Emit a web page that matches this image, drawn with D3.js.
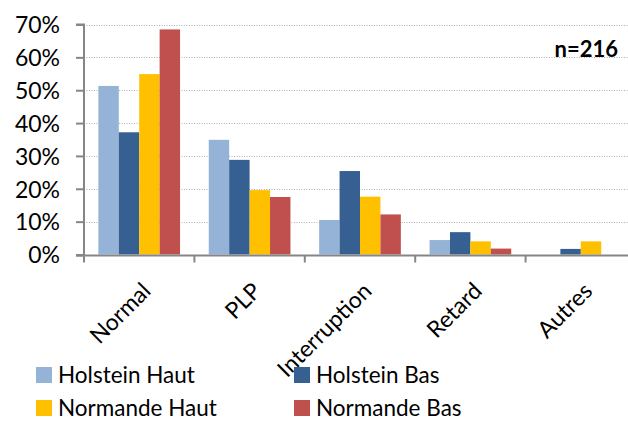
<!DOCTYPE html>
<html><head><meta charset="utf-8">
<script src="https://cdn.jsdelivr.net/npm/d3@7/dist/d3.min.js"></script>
<style>
html,body{margin:0;padding:0;background:#fff;}
svg{display:block;font-family:Lato, "Open Sans", sans-serif;}
</style></head>
<body><svg id="c" width="628" height="421"></svg>
<script>
const categories = ["Normal", "PLP", "Interruption", "Retard", "Autres"];
const seriesNames = ["Holstein Haut", "Holstein Bas", "Normande Haut", "Normande Bas"];
const holsteinHaut = [0.513, 0.349, 0.105, 0.044, 0.0];
const holsteinBas = [0.372, 0.288, 0.254, 0.068, 0.017];
const normandeHaut = [0.549, 0.196, 0.176, 0.040, 0.040];
const normandeBas = [0.685, 0.175, 0.122, 0.018, 0.0];
const colors = ["#95B3D7", "#366092", "#FFC000", "#C0504D"];
const yTicks = [0, 0.1, 0.2, 0.3, 0.4, 0.5, 0.6, 0.7];
const annotation = "n=216";

(function () {
const values = [holsteinHaut, holsteinBas, normandeHaut, normandeBas];
const svg = d3.select("#c");
const pLeft = 84, pRight = 636, pTop = 24.5, pBottom = 254.5;

const x0 = d3.scaleBand().domain(categories).range([pLeft, pRight]).padding(0);
const x1 = d3.scaleBand().domain(seriesNames)
  .range([x0.bandwidth() * 0.13, x0.bandwidth() * 0.87]).padding(0);
const y = d3.scaleLinear().domain([0, 0.7]).range([pBottom, pTop]);

// gridlines
svg.append("g").selectAll("line").data(yTicks.slice(1)).join("line")
  .attr("x1", pLeft).attr("x2", 628)
  .attr("y1", d => Math.round(y(d)) + 0.5).attr("y2", d => Math.round(y(d)) + 0.5)
  .attr("stroke", "#b0b0b0").attr("stroke-width", 1).attr("stroke-dasharray", "1,1.5");

// bars
const rows = [];
categories.forEach((c, i) => seriesNames.forEach((s, j) => rows.push({c, s, v: values[j][i], col: colors[j]})));
svg.append("g").selectAll("rect").data(rows.filter(d => d.v > 0)).join("rect")
  .attr("x", d => x0(d.c) + x1(d.s))
  .attr("width", x1.bandwidth())
  .attr("y", d => y(d.v))
  .attr("height", d => y(0) - y(d.v))
  .attr("fill", d => d.col);

// y axis
const yAxis = d3.axisLeft(y).tickValues(yTicks).tickFormat(d3.format(".0%")).tickSize(8).tickPadding(16);
const gy = svg.append("g").attr("transform", `translate(${pLeft},0)`).call(yAxis);
gy.select(".domain").attr("stroke", "#868686").attr("stroke-width", 2).attr("d", `M-8,${pTop}H0V${pBottom+1}H-8`);
gy.selectAll(".tick line").attr("stroke", "#868686").attr("stroke-width", 2);
gy.selectAll(".tick text").attr("font-size", 23).attr("fill", "#000").attr("font-family", "Lato").attr("dy", "0.36em");

// x axis
svg.append("line").attr("x1", pLeft - 8).attr("x2", 628).attr("y1", pBottom + 1).attr("y2", pBottom + 1)
  .attr("stroke", "#868686").attr("stroke-width", 2);
const bounds = categories.map(c => x0(c)).concat([x0(categories[categories.length - 1]) + x0.bandwidth()]);
svg.append("g").selectAll("line").data(bounds).join("line")
  .attr("x1", d => d).attr("x2", d => d).attr("y1", pBottom + 1).attr("y2", pBottom + 8)
  .attr("stroke", "#868686").attr("stroke-width", 2);

svg.append("g").selectAll("text").data(categories).join("text")
  .attr("transform", c => `translate(${x0(c) + x0.bandwidth() / 2 + 13},${pBottom + 38}) rotate(-45)`)
  .attr("text-anchor", "end").attr("font-size", 23).attr("fill", "#000")
  .text(c => c);

// annotation
svg.append("text").attr("x", 618).attr("y", 57).attr("text-anchor", "end")
  .attr("font-size", 22).attr("font-weight", "bold").attr("fill", "#000").text(annotation);

// legend
const leg = svg.append("g").selectAll("g").data(seriesNames).join("g")
  .attr("transform", (d, i) => `translate(${i % 2 === 0 ? 36 : 294},${i < 2 ? 367 : 400})`);
leg.append("rect").attr("width", 16).attr("height", 16).attr("fill", (d, i) => colors[i]);
leg.append("text").attr("x", 22).attr("y", 16).attr("font-size", 22.5).attr("fill", "#000").text(d => d);
})();
</script></body></html>
